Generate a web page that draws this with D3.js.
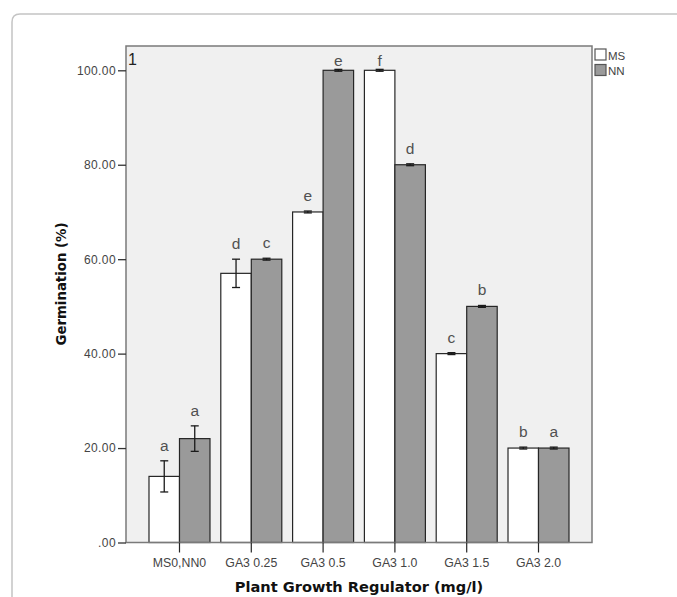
<!DOCTYPE html>
<html>
<head>
<meta charset="utf-8">
<script src="https://cdn.jsdelivr.net/npm/d3@7"></script>
<style>
  html, body { margin: 0; padding: 0; background: #fff; }
  svg { display: block; }
</style>
</head>
<body>
<svg id="chart" width="677" height="597"></svg>
<script>
// ---- data ----
const categories = ["MS0,NN0", "GA3 0.25", "GA3 0.5", "GA3 1.0", "GA3 1.5", "GA3 2.0"];
const seriesNames = ["MS", "NN"];
const msValues = [14, 57, 70, 100, 40, 20];
const nnValues = [22, 60, 100, 80, 50, 20];
const msErrors = [3.3, 3.0, 0.2, 0.2, 0.2, 0.2];
const nnErrors = [2.7, 0.2, 0.2, 0.2, 0.2, 0.2];
const msLetters = ["a", "d", "e", "f", "c", "b"];
const nnLetters = ["a", "c", "e", "d", "b", "a"];
const yTicks = [0, 20, 40, 60, 80, 100];
const yTickLabels = [".00", "20.00", "40.00", "60.00", "80.00", "100.00"];

// ---- layout ----
const svg = d3.select("#chart");
const plot = { left: 126, right: 592, top: 46, bottom: 542.5 };
const fills = { MS: "#ffffff", NN: "#9a9a9a" };

// outer frame
svg.append("path")
  .attr("d", "M12,597 V22 Q12,14 20,14 H677")
  .attr("fill", "none")
  .attr("stroke", "#c4c4c4")
  .attr("stroke-width", 1.5);

const x = d3.scaleBand().domain(categories).range([plot.left, plot.right])
  .paddingInner(0).paddingOuter(0.245);
const y = d3.scaleLinear().domain([0, 100]).range([plot.bottom, 70.3]);
const barW = 30.5;

// plot background
svg.append("rect")
  .attr("x", plot.left).attr("y", plot.top)
  .attr("width", plot.right - plot.left).attr("height", plot.bottom - plot.top)
  .attr("fill", "#f0f0f0");

// bars
const rows = [];
categories.forEach((c, i) => {
  rows.push({ cat: c, s: "MS", v: msValues[i], e: msErrors[i], l: msLetters[i], k: 0 });
  rows.push({ cat: c, s: "NN", v: nnValues[i], e: nnErrors[i], l: nnLetters[i], k: 1 });
});
const cx = d => x(d.cat) + x.bandwidth() / 2;
const bx = d => cx(d) + (d.k === 0 ? -barW : 0);

svg.append("g").selectAll("rect").data(rows).join("rect")
  .attr("x", bx)
  .attr("y", d => y(d.v))
  .attr("width", barW)
  .attr("height", d => y(0) - y(d.v))
  .attr("fill", d => fills[d.s])
  .attr("stroke", "#262626")
  .attr("stroke-width", 1.2);

// error bars
const eg = svg.append("g").attr("stroke", "#1a1a1a").attr("stroke-width", 1.3);
rows.forEach(d => {
  const mx = bx(d) + barW / 2;
  eg.append("line").attr("x1", mx).attr("x2", mx).attr("y1", y(d.v + d.e)).attr("y2", y(d.v - d.e));
  eg.append("line").attr("x1", mx - 4).attr("x2", mx + 4).attr("y1", y(d.v + d.e)).attr("y2", y(d.v + d.e));
  eg.append("line").attr("x1", mx - 4).attr("x2", mx + 4).attr("y1", y(d.v - d.e)).attr("y2", y(d.v - d.e));
});

// significance letters
svg.append("g").selectAll("text").data(rows).join("text")
  .attr("x", d => bx(d) + barW / 2)
  .attr("y", d => Math.max(y(d.v + d.e) - 10, plot.top + 20))
  .attr("text-anchor", "middle")
  .attr("font-family", "'Liberation Sans', Arial, sans-serif")
  .attr("font-size", 15.5)
  .attr("fill", "#505050")
  .text(d => d.l);

// plot frame
svg.append("rect")
  .attr("x", plot.left).attr("y", plot.top)
  .attr("width", plot.right - plot.left).attr("height", plot.bottom - plot.top)
  .attr("fill", "none")
  .attr("stroke", "#7a7a7a")
  .attr("stroke-width", 1.5);

// y axis
const yAxis = d3.axisLeft(y).tickValues(yTicks)
  .tickFormat((d, i) => yTickLabels[i]).tickSize(8).tickPadding(2);
const yg = svg.append("g").attr("transform", `translate(${plot.left},0)`).call(yAxis);
yg.select(".domain").remove();
yg.selectAll(".tick line").attr("stroke", "#333").attr("stroke-width", 1.3);
yg.selectAll(".tick text")
  .attr("font-family", "'Liberation Sans', Arial, sans-serif")
  .attr("font-size", 12).attr("letter-spacing", 0.4)
  .attr("fill", "#444");

// x axis
const xAxis = d3.axisBottom(x).tickSize(10).tickPadding(6);
const xg = svg.append("g").attr("transform", `translate(0,${plot.bottom})`).call(xAxis);
xg.select(".domain").remove();
xg.selectAll(".tick line").attr("stroke", "#262626").attr("stroke-width", 1.2);
xg.selectAll(".tick text")
  .attr("font-family", "'Liberation Sans', Arial, sans-serif")
  .attr("font-size", 12.3)
  .attr("fill", "#444");

// axis titles
svg.append("text")
  .attr("x", 359).attr("y", 592)
  .attr("text-anchor", "middle")
  .attr("font-family", "'DejaVu Sans', Verdana, sans-serif")
  .attr("font-weight", "bold").attr("font-size", 14.6)
  .attr("fill", "#111")
  .text("Plant Growth Regulator (mg/l)");

svg.append("text")
  .attr("transform", "translate(66,284) rotate(-90)")
  .attr("text-anchor", "middle")
  .attr("font-family", "'DejaVu Sans', Verdana, sans-serif")
  .attr("font-weight", "bold").attr("font-size", 13.3)
  .attr("fill", "#111")
  .text("Germination (%)");

// panel number
svg.append("text")
  .attr("x", 128).attr("y", 65)
  .attr("font-family", "'Liberation Sans Narrow', 'Liberation Sans', Arial, sans-serif")
  .attr("font-size", 16)
  .attr("fill", "#222")
  .text("1");

// legend
const lg = svg.append("g");
seriesNames.forEach((s, i) => {
  lg.append("rect")
    .attr("x", 595).attr("y", 49 + i * 15.5)
    .attr("width", 11).attr("height", 11)
    .attr("fill", fills[s])
    .attr("stroke", "#555").attr("stroke-width", 1.2);
  lg.append("text")
    .attr("x", 608).attr("y", 59.5 + i * 15.5)
    .attr("font-family", "'Liberation Sans Narrow', 'Liberation Sans', Arial, sans-serif")
    .attr("font-size", 11.5)
    .attr("fill", "#444")
    .text(s);
});
</script>
</body>
</html>
